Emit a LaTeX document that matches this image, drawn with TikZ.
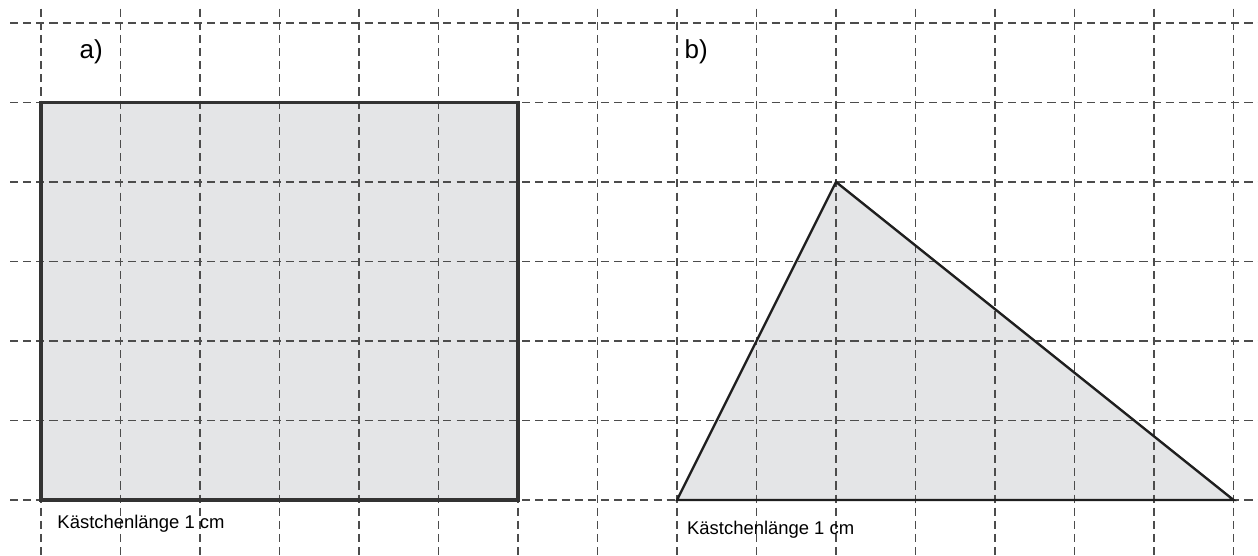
\documentclass[tikz,border=0pt]{standalone}
\usepackage{fontspec}
\setmainfont{Liberation Sans}
\definecolor{shapegray}{RGB}{228,229,231}
\begin{document}
\begin{tikzpicture}[
  gridline/.style={draw=black!70, line width=0.6pt, dash pattern=on 2.9pt off 1.8pt},
  shapefill/.style={fill=shapegray},
  rectline/.style={draw=black!80, line width=1.4pt},
  triline/.style={draw=black!88, line width=0.85pt, line join=miter},
  biglabel/.style={font=\fontsize{9.3}{11}\selectfont, inner sep=0pt},
  smalllabel/.style={font=\fontsize{6.6}{8}\selectfont, inner sep=0pt, anchor=west}
]
\useasboundingbox (-0.516,-0.704) rectangle (15.308,6.289);
% fills
\path[shapefill] (0,0) rectangle (6,5);
\path[shapefill] (8,0) -- (10,4) -- (15,0) -- cycle;
% grid
\foreach \y in {0,...,6} {
  \draw[gridline] (-0.39,\y) -- (15.308,\y);
}
\foreach \x in {0,...,15} {
  \draw[gridline] (\x,6.18) -- (\x,-0.704);
}
% outlines
\draw[rectline] (0,0) rectangle (6,5);
\coordinate (A) at (8,0);
\coordinate (B) at (10,4);
\coordinate (C) at (15,0);
\draw[triline] (A) -- (B) -- (C) -- cycle;
% labels
\node[biglabel] (la) at (0.63,5.64) {a)};
\node[biglabel] (lb) at (8.24,5.64) {b)};
\node[smalllabel] (ka) at (0.2,-0.3) {Kästchenlänge 1 cm};
\node[smalllabel] (kb) at (8.12,-0.38) {Kästchenlänge 1 cm};
\end{tikzpicture}
\end{document}
